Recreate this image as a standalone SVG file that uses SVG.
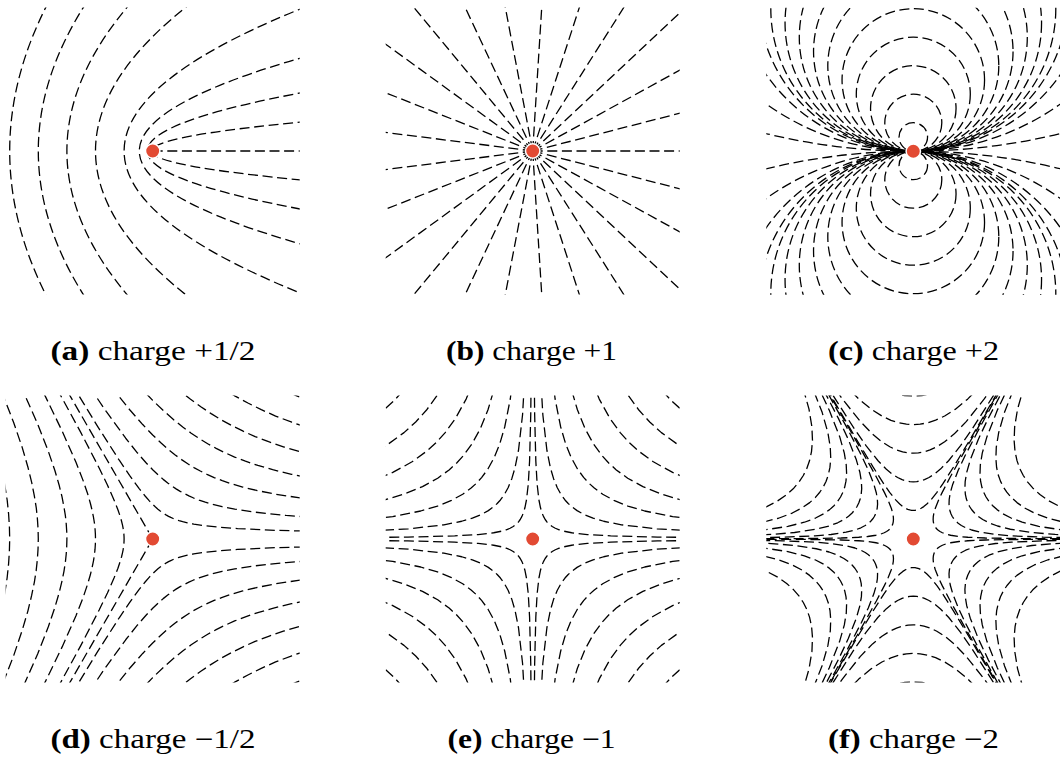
<svg xmlns="http://www.w3.org/2000/svg" width="1060" height="760" viewBox="0 0 1060 760">
<style>
.fl{fill:none;stroke:#000;stroke-width:1.3;stroke-dasharray:10 4.6;vector-effect:non-scaling-stroke;stroke-linejoin:round}
.dot{fill:#E24A33;stroke:#fff;stroke-width:1.5}
.cap{font-family:"Liberation Serif","Times New Roman",serif;font-size:27px;fill:#000}
.b{font-weight:bold}
</style>
<defs>
<clipPath id="clip"><rect x="-147" y="-143.5" width="294" height="287"/></clipPath>
<path id="ray" class="fl" d="M0,0H215"/>
<path id="D" class="fl" d="M11.341,-0.198L7.143,-0.249L4.496,-0.314L3.088,-0.379L2.425,-0.428L1.832,-0.491L1.492,-0.543L1.262,-0.588L1.091,-0.63L0.956,-0.669L0.843,-0.708L0.745,-0.745L0.658,-0.784L0.577,-0.824L0.5,-0.866L0.425,-0.912L0.35,-0.962L0.273,-1.018L0.191,-1.084L0.102,-1.163L0,-1.26L-0.121,-1.387L-0.276,-1.563L-0.491,-1.832L-0.842,-2.314L-1.216,-2.864L-1.976,-4.051L-3.355,-6.31L-5.499,-9.921"/>
<path id="H" class="fl" d="M12,-0.0833L8,-0.125L5,-0.2L3.5,-0.2857L2.5,-0.4L2,-0.5L1.7,-0.5882L1.45,-0.6897L1.25,-0.8L1.1,-0.9091L1,-1L0.9091,-1.1L0.8,-1.25L0.6897,-1.45L0.5882,-1.7L0.5,-2L0.4,-2.5L0.2857,-3.5L0.2,-5L0.125,-8L0.0833,-12"/>
<path id="G" class="fl" d="M10.54,-0.003L5.774,-0.01L4.083,-0.02L2.887,-0.04L2.183,-0.07L1.827,-0.1L1.493,-0.15L1.296,-0.2L1.164,-0.25L1.068,-0.3L0.997,-0.35L0.942,-0.4L0.899,-0.45L0.866,-0.5L0.839,-0.554L0.817,-0.615L0.801,-0.688L0.794,-0.775L0.798,-0.883L0.821,-1.023L0.877,-1.218L1,-1.532L1.152,-1.855L1.478,-2.48L2.059,-3.526L2.896,-4.995L5.273,-9.126"/>
</defs>

<!-- (a) charge +1/2 -->
<g id="panel-a" transform="translate(152.7,151)">
<g clip-path="url(#clip)">
<path class="fl" d="M-103.66,-150Q-182.34,0 -103.66,150"/>
<path class="fl" d="M-65.23,-150Q-163.57,0 -65.23,150"/>
<path class="fl" d="M-20.24,-150Q-151.36,0 -20.24,150"/>
<path class="fl" d="M41.14,-150Q-155.54,0 41.14,150"/>
<path class="fl" d="M168.08,-150Q-225.28,0 168.08,150"/>
<path class="fl" d="M155,-95Q-181.8,0 155,95"/>
<path class="fl" d="M155,-59.42Q-166,0 155,59.42"/>
<path class="fl" d="M155,-29.6Q-157.8,0 155,29.6"/>
<path class="fl" d="M0,0H155"/>
</g>
<circle class="dot" cx="0" cy="0" r="7.2"/>
</g>

<!-- (b) charge +1 -->
<g id="panel-b" transform="translate(532.7,151)">
<g clip-path="url(#clip)">
<use href="#ray"/>
<use href="#ray" transform="rotate(-14.4)"/>
<use href="#ray" transform="rotate(-28.8)"/>
<use href="#ray" transform="rotate(-43.2)"/>
<use href="#ray" transform="rotate(-57.6)"/>
<use href="#ray" transform="rotate(-72)"/>
<use href="#ray" transform="rotate(-86.4)"/>
<use href="#ray" transform="rotate(-100.8)"/>
<use href="#ray" transform="rotate(-115.2)"/>
<use href="#ray" transform="rotate(-129.6)"/>
<use href="#ray" transform="rotate(-144)"/>
<use href="#ray" transform="rotate(-158.4)"/>
<use href="#ray" transform="rotate(-172.8)"/>
<use href="#ray" transform="rotate(-187.2)"/>
<use href="#ray" transform="rotate(-201.6)"/>
<use href="#ray" transform="rotate(-216)"/>
<use href="#ray" transform="rotate(-230.4)"/>
<use href="#ray" transform="rotate(-244.8)"/>
<use href="#ray" transform="rotate(-259.2)"/>
<use href="#ray" transform="rotate(-273.6)"/>
<use href="#ray" transform="rotate(-288)"/>
<use href="#ray" transform="rotate(-302.4)"/>
<use href="#ray" transform="rotate(-316.8)"/>
<use href="#ray" transform="rotate(-331.2)"/>
<use href="#ray" transform="rotate(-345.6)"/>
</g>
<circle class="dot" cx="0" cy="0" r="7.2"/>
</g>

<!-- (c) charge +2 -->
<g id="panel-c" transform="translate(913.3,151.2)">
<g clip-path="url(#clip)">
<circle class="fl" cx="0" cy="-14.25" r="14.25"/>
<circle class="fl" cx="0" cy="-28.5" r="28.5"/>
<circle class="fl" cx="0" cy="-42.75" r="42.75"/>
<circle class="fl" cx="0" cy="-57" r="57"/>
<circle class="fl" cx="0" cy="-71.25" r="71.25"/>
<circle class="fl" cx="0" cy="-85.5" r="85.5"/>
<circle class="fl" cx="0" cy="-99.75" r="99.75"/>
<circle class="fl" cx="0" cy="-114" r="114"/>
<circle class="fl" cx="0" cy="-128.25" r="128.25"/>
<circle class="fl" cx="0" cy="-142.5" r="142.5"/>
<circle class="fl" cx="0" cy="-155" r="155"/>
<circle class="fl" cx="0" cy="-179.6" r="179.6"/>
<circle class="fl" cx="0" cy="-252.4" r="252.4"/>
<circle class="fl" cx="0" cy="-623.6" r="623.6"/>
<circle class="fl" cx="0" cy="14.25" r="14.25"/>
<circle class="fl" cx="0" cy="28.5" r="28.5"/>
<circle class="fl" cx="0" cy="42.75" r="42.75"/>
<circle class="fl" cx="0" cy="57" r="57"/>
<circle class="fl" cx="0" cy="71.25" r="71.25"/>
<circle class="fl" cx="0" cy="85.5" r="85.5"/>
<circle class="fl" cx="0" cy="99.75" r="99.75"/>
<circle class="fl" cx="0" cy="114" r="114"/>
<circle class="fl" cx="0" cy="128.25" r="128.25"/>
<circle class="fl" cx="0" cy="142.5" r="142.5"/>
<circle class="fl" cx="0" cy="155" r="155"/>
<circle class="fl" cx="0" cy="179.6" r="179.6"/>
<circle class="fl" cx="0" cy="252.4" r="252.4"/>
<circle class="fl" cx="0" cy="623.6" r="623.6"/>
</g>
<circle class="dot" cx="0" cy="0" r="7.2"/>
</g>

<!-- (d) charge -1/2 -->
<g id="panel-d" transform="translate(152.7,539)">
<g clip-path="url(#clip)">
<use href="#D" transform="scale(27.5)"/>
<use href="#D" transform="scale(55)"/>
<use href="#D" transform="scale(82.5)"/>
<use href="#D" transform="scale(110)"/>
<use href="#D" transform="scale(137.5)"/>
<use href="#D" transform="scale(165)"/>
<use href="#D" transform="scale(192.5)"/>
<use href="#D" transform="scale(27.5,-27.5)"/>
<use href="#D" transform="scale(55,-55)"/>
<use href="#D" transform="scale(82.5,-82.5)"/>
<use href="#D" transform="scale(110,-110)"/>
<use href="#D" transform="scale(137.5,-137.5)"/>
<use href="#D" transform="scale(165,-165)"/>
<use href="#D" transform="scale(192.5,-192.5)"/>
<use href="#D" transform="rotate(-120) scale(28.6)"/>
<use href="#D" transform="rotate(-120) scale(57.2)"/>
<use href="#D" transform="rotate(-120) scale(85.8)"/>
<use href="#D" transform="rotate(-120) scale(114.4)"/>
<use href="#D" transform="rotate(-120) scale(143)"/>
<path class="fl" d="M0,0L-125,-216.5"/>
<path class="fl" d="M0,0L-125,216.5"/>
</g>
<circle class="dot" cx="0" cy="0" r="7.2"/>
</g>

<!-- (e) charge -1 -->
<g id="panel-e" transform="translate(532.7,539)">
<g clip-path="url(#clip)">
<use href="#H" transform="scale(15.6)"/>
<use href="#H" transform="scale(35.5)"/>
<use href="#H" transform="scale(56)"/>
<use href="#H" transform="scale(76)"/>
<use href="#H" transform="scale(96.5)"/>
<use href="#H" transform="scale(117)"/>
<use href="#H" transform="scale(138.5)"/>
<use href="#H" transform="scale(-15.6,15.6)"/>
<use href="#H" transform="scale(-35.5,35.5)"/>
<use href="#H" transform="scale(-56,56)"/>
<use href="#H" transform="scale(-76,76)"/>
<use href="#H" transform="scale(-96.5,96.5)"/>
<use href="#H" transform="scale(-117,117)"/>
<use href="#H" transform="scale(-138.5,138.5)"/>
<use href="#H" transform="scale(15.6,-15.6)"/>
<use href="#H" transform="scale(35.5,-35.5)"/>
<use href="#H" transform="scale(56,-56)"/>
<use href="#H" transform="scale(76,-76)"/>
<use href="#H" transform="scale(96.5,-96.5)"/>
<use href="#H" transform="scale(117,-117)"/>
<use href="#H" transform="scale(138.5,-138.5)"/>
<use href="#H" transform="scale(-15.6,-15.6)"/>
<use href="#H" transform="scale(-35.5,-35.5)"/>
<use href="#H" transform="scale(-56,-56)"/>
<use href="#H" transform="scale(-76,-76)"/>
<use href="#H" transform="scale(-96.5,-96.5)"/>
<use href="#H" transform="scale(-117,-117)"/>
<use href="#H" transform="scale(-138.5,-138.5)"/>
</g>
<circle class="dot" cx="0" cy="0" r="7.2"/>
</g>

<!-- (f) charge -2 -->
<g id="panel-f" transform="translate(913.3,539)">
<g clip-path="url(#clip)">
<use href="#G" transform="scale(25)"/>
<use href="#G" transform="scale(45)"/>
<use href="#G" transform="scale(65)"/>
<use href="#G" transform="scale(84)"/>
<use href="#G" transform="scale(104)"/>
<use href="#G" transform="scale(127)"/>
<use href="#G" transform="rotate(-120) scale(25)"/>
<use href="#G" transform="rotate(-120) scale(45)"/>
<use href="#G" transform="rotate(-120) scale(65)"/>
<use href="#G" transform="rotate(-120) scale(84)"/>
<use href="#G" transform="rotate(-120) scale(104)"/>
<use href="#G" transform="rotate(-120) scale(127)"/>
<use href="#G" transform="rotate(180) scale(25)"/>
<use href="#G" transform="rotate(180) scale(45)"/>
<use href="#G" transform="rotate(180) scale(65)"/>
<use href="#G" transform="rotate(180) scale(84)"/>
<use href="#G" transform="rotate(180) scale(104)"/>
<use href="#G" transform="rotate(180) scale(127)"/>
<use href="#G" transform="rotate(60) scale(25)"/>
<use href="#G" transform="rotate(60) scale(45)"/>
<use href="#G" transform="rotate(60) scale(65)"/>
<use href="#G" transform="rotate(60) scale(84)"/>
<use href="#G" transform="rotate(60) scale(104)"/>
<use href="#G" transform="rotate(60) scale(127)"/>
<use href="#G" transform="rotate(-60) scale(28.6)"/>
<use href="#G" transform="rotate(-60) scale(57.2)"/>
<use href="#G" transform="rotate(-60) scale(85.8)"/>
<use href="#G" transform="rotate(-60) scale(114.4)"/>
<use href="#G" transform="rotate(-60) scale(143)"/>
<use href="#G" transform="rotate(120) scale(28.6)"/>
<use href="#G" transform="rotate(120) scale(57.2)"/>
<use href="#G" transform="rotate(120) scale(85.8)"/>
<use href="#G" transform="rotate(120) scale(114.4)"/>
<use href="#G" transform="rotate(120) scale(143)"/>
</g>
<circle class="dot" cx="0" cy="0" r="7.2"/>
</g>

<!-- captions -->
<g id="captions">
<text class="cap" x="153" y="360" text-anchor="middle" textLength="205" lengthAdjust="spacingAndGlyphs"><tspan class="b">(a)</tspan> charge +1/2</text>
<text class="cap" x="531.5" y="360" text-anchor="middle" textLength="171" lengthAdjust="spacingAndGlyphs"><tspan class="b">(b)</tspan> charge +1</text>
<text class="cap" x="913.5" y="360" text-anchor="middle" textLength="171" lengthAdjust="spacingAndGlyphs"><tspan class="b">(c)</tspan> charge +2</text>
<text class="cap" x="153" y="748" text-anchor="middle" textLength="205" lengthAdjust="spacingAndGlyphs"><tspan class="b">(d)</tspan> charge −1/2</text>
<text class="cap" x="531.5" y="748" text-anchor="middle" textLength="168" lengthAdjust="spacingAndGlyphs"><tspan class="b">(e)</tspan> charge −1</text>
<text class="cap" x="913.5" y="748" text-anchor="middle" textLength="171" lengthAdjust="spacingAndGlyphs"><tspan class="b">(f)</tspan> charge −2</text>
</g>
</svg>
